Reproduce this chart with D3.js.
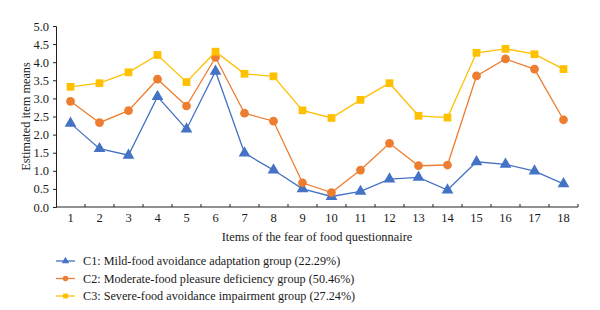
<!DOCTYPE html>
<html>
<head>
<meta charset="utf-8">
<script src="https://cdn.jsdelivr.net/npm/d3@7"></script>
<style>
  body { margin: 0; background: #fff; }
  svg { display: block; font-family: "Liberation Serif", "DejaVu Serif", serif; }
</style>
</head>
<body>
<svg id="chart" width="600" height="310"></svg>
<script>
const items = d3.range(1, 19).map(String);
const yTicks = [0, 0.5, 1, 1.5, 2, 2.5, 3, 3.5, 4, 4.5, 5];

const c1 = [2.31, 1.61, 1.43, 3.05, 2.15, 3.75, 1.49, 1.02, 0.50, 0.29, 0.43, 0.77, 0.82, 0.47, 1.25, 1.18, 0.99, 0.64];
const c2 = [2.92, 2.33, 2.66, 3.53, 2.79, 4.13, 2.59, 2.37, 0.67, 0.40, 1.02, 1.76, 1.14, 1.16, 3.62, 4.09, 3.81, 2.41];
const c3 = [3.32, 3.42, 3.72, 4.20, 3.45, 4.29, 3.68, 3.61, 2.67, 2.46, 2.96, 3.42, 2.52, 2.47, 4.26, 4.37, 4.22, 3.81];

const seriesNames = [
  "C1: Mild-food avoidance adaptation group (22.29%)",
  "C2: Moderate-food pleasure deficiency group (50.46%)",
  "C3: Severe-food avoidance impairment group (27.24%)"
];
const colors = ["#4472c4", "#ed7d31", "#ffc000"];
const symbols = [d3.symbolTriangle, d3.symbolCircle, d3.symbolSquare];

const series = [c1, c2, c3].map((vals, i) => ({
  name: seriesNames[i], color: colors[i], symbol: symbols[i],
  values: vals.map((v, j) => ({ item: items[j], v }))
}));

const svg = d3.select("#chart");
const margin = { top: 26, right: 22, bottom: 103, left: 56 };
const width = 600, height = 310;

const x = d3.scaleBand().domain(items).range([margin.left, width - margin.right]);
const y = d3.scaleLinear().domain([0, 5]).range([height - margin.bottom, margin.top]);

// x axis, ticks sit on the band edges and point up
const xAxis = svg.append("g").attr("transform", `translate(0,${height - margin.bottom})`);
xAxis.append("line")
  .attr("x1", margin.left).attr("x2", width - margin.right)
  .attr("stroke", "#222").attr("stroke-width", 1);
xAxis.selectAll("line.tk")
  .data(items.slice(1).concat(["end"]))
  .join("line")
  .attr("class", "tk")
  .attr("x1", d => d === "end" ? width - margin.right : x(d))
  .attr("x2", d => d === "end" ? width - margin.right : x(d))
  .attr("y1", 0).attr("y2", -3)
  .attr("stroke", "#222");
xAxis.selectAll("text")
  .data(items)
  .join("text")
  .attr("x", d => x(d) + x.bandwidth() / 2)
  .attr("y", 15)
  .attr("text-anchor", "middle")
  .style("font-size", "12.5px")
  .style("fill", "#1a1a1a")
  .text(d => d);

// y axis
svg.append("g")
  .attr("transform", `translate(${margin.left},0)`)
  .call(d3.axisLeft(y).tickValues(yTicks).tickFormat(d3.format(".1f")).tickSize(3).tickPadding(4))
  .call(g => g.selectAll("path,line").attr("stroke", "#222"))
  .selectAll("text")
  .style("font-size", "12.5px")
  .style("fill", "#1a1a1a")
  .style("font-family", "Liberation Serif, serif");

svg.append("text")
  .attr("x", 317)
  .attr("y", height - margin.bottom + 34)
  .attr("text-anchor", "middle")
  .style("font-size", "12.4px")
  .style("fill", "#1a1a1a")
  .text("Items of the fear of food questionnaire");

svg.append("text")
  .attr("transform", "rotate(-90)")
  .attr("x", -(margin.top + height - margin.bottom) / 2)
  .attr("y", 30)
  .attr("text-anchor", "middle")
  .style("font-size", "12.3px")
  .style("fill", "#1a1a1a")
  .text("Estimated item means");

const line = d3.line()
  .x(d => x(d.item) + x.bandwidth() / 2)
  .y(d => y(d.v));

series.forEach(s => {
  svg.append("path")
    .datum(s.values)
    .attr("fill", "none")
    .attr("stroke", s.color)
    .attr("stroke-width", 1.3)
    .attr("d", line);
  svg.append("g")
    .selectAll("path")
    .data(s.values)
    .join("path")
    .attr("transform", d => `translate(${x(d.item) + x.bandwidth() / 2},${y(d.v)})`)
    .attr("d", d3.symbol().type(s.symbol).size(60))
    .attr("fill", s.color);
});

// legend
const legend = svg.append("g").attr("transform", "translate(56,261)");
series.forEach((s, i) => {
  const g = legend.append("g").attr("transform", `translate(0,${i * 17.5})`);
  g.append("line").attr("x1", 0).attr("x2", 19).attr("stroke", s.color).attr("stroke-width", 1.3);
  g.append("path")
    .attr("transform", "translate(9.5,0)")
    .attr("d", d3.symbol().type(s.symbol).size(24))
    .attr("fill", s.color);
  g.append("text")
    .attr("x", 27)
    .attr("y", 4.2)
    .style("font-size", "12.2px")
    .style("fill", "#1a1a1a")
    .text(s.name);
});
</script>
</body>
</html>
